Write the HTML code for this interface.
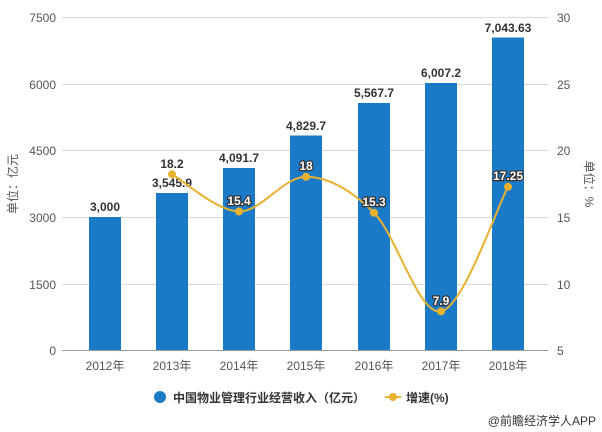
<!DOCTYPE html>
<html><head><meta charset="utf-8"><style>
body{margin:0;background:#fff;}
svg{display:block;font-family:"Liberation Sans","Noto Sans CJK SC",sans-serif;}
.ax{font-size:12px;fill:#555;}
.bl{font-size:12px;font-weight:bold;fill:#333;text-anchor:middle;}
.ll{font-size:12px;font-weight:bold;fill:#fff;text-anchor:middle;stroke:#333;stroke-width:2.5px;paint-order:stroke;stroke-linejoin:round;}
</style></head><body>
<svg width="602" height="432" viewBox="0 0 602 432">
<g stroke="#d8d8d8" stroke-width="1">
<line x1="62" y1="17.5" x2="548" y2="17.5"/>
<line x1="62" y1="84.5" x2="548" y2="84.5"/>
<line x1="62" y1="150.5" x2="548" y2="150.5"/>
<line x1="62" y1="217.5" x2="548" y2="217.5"/>
<line x1="62" y1="284.5" x2="548" y2="284.5"/>
</g>
<line x1="62" y1="350.5" x2="548" y2="350.5" stroke="#999"/>
<g class="ax" text-anchor="end">
<text x="56" y="22">7500</text><text x="56" y="89">6000</text><text x="56" y="155">4500</text>
<text x="56" y="222">3000</text><text x="56" y="289">1500</text><text x="56" y="355">0</text>
</g>
<g class="ax" text-anchor="start">
<text x="557" y="22">30</text><text x="557" y="89">25</text><text x="557" y="155">20</text>
<text x="557" y="222">15</text><text x="557" y="289">10</text><text x="557" y="355">5</text>
</g>
<text class="ax" transform="translate(17,184) rotate(-90)" text-anchor="middle">单位：亿元</text>
<text class="ax" transform="translate(585,184) rotate(90)" text-anchor="middle">单位：%</text>
<g fill="#1a7ac8">
<rect x="89" y="217" width="32" height="133"/>
<rect x="156" y="193" width="32" height="157"/>
<rect x="223" y="168" width="32" height="182"/>
<rect x="290" y="135.5" width="32" height="214.5"/>
<rect x="358" y="103" width="32" height="247"/>
<rect x="425" y="83" width="32" height="267"/>
<rect x="492" y="37.5" width="32" height="312.5"/>
</g>
<g class="ax" text-anchor="middle">
<text x="105" y="370">2012年</text><text x="172" y="370">2013年</text><text x="239" y="370">2014年</text>
<text x="306" y="370">2015年</text><text x="374" y="370">2016年</text><text x="441" y="370">2017年</text><text x="508" y="370">2018年</text>
</g>
<g class="bl">
<text x="105" y="211">3,000</text><text x="172" y="187">3,545.9</text><text x="239" y="162">4,091.7</text>
<text x="306" y="130">4,829.7</text><text x="374" y="97">5,567.7</text><text x="441" y="77">6,007.2</text><text x="508" y="32">7,043.63</text>
</g>
<path d="M172,174.2 C183.2,180.4 216.7,211.1 239,211.5 C261.3,211.9 283.5,176.6 306,176.8 C328.5,177 351.5,190.4 374,212.8 C396.5,235.2 418.7,315.7 441,311.4 C463.3,307.1 496.8,207.6 508,186.8" fill="none" stroke="#e8b22e" stroke-width="2"/>
<g fill="#e8b22e">
<circle cx="172" cy="174.2" r="4"/><circle cx="239" cy="211.5" r="4"/><circle cx="306" cy="176.8" r="4"/>
<circle cx="374" cy="212.8" r="4"/><circle cx="441" cy="311.4" r="4"/><circle cx="508" cy="186.8" r="4"/>
</g>
<text class="bl" x="172" y="168">18.2</text>
<g class="ll">
<text x="239" y="205">15.4</text><text x="306" y="170">18</text><text x="374" y="206">15.3</text>
<text x="441" y="305">7.9</text><text x="508" y="180">17.25</text>
</g>
<circle cx="160" cy="397" r="6" fill="#1a7ac8"/>
<text x="173" y="402" font-size="12" font-weight="bold" fill="#333">中国物业管理行业经营收入（亿元）</text>
<line x1="385" y1="397" x2="401" y2="397" stroke="#e8b22e" stroke-width="2"/>
<circle cx="393" cy="397" r="4" fill="#e8b22e"/>
<text x="406" y="402" font-size="12" font-weight="bold" fill="#333">增速(%)</text>
<text x="596" y="425" font-size="12" fill="#333" text-anchor="end">@前瞻经济学人APP</text>
</svg>
</body></html>
